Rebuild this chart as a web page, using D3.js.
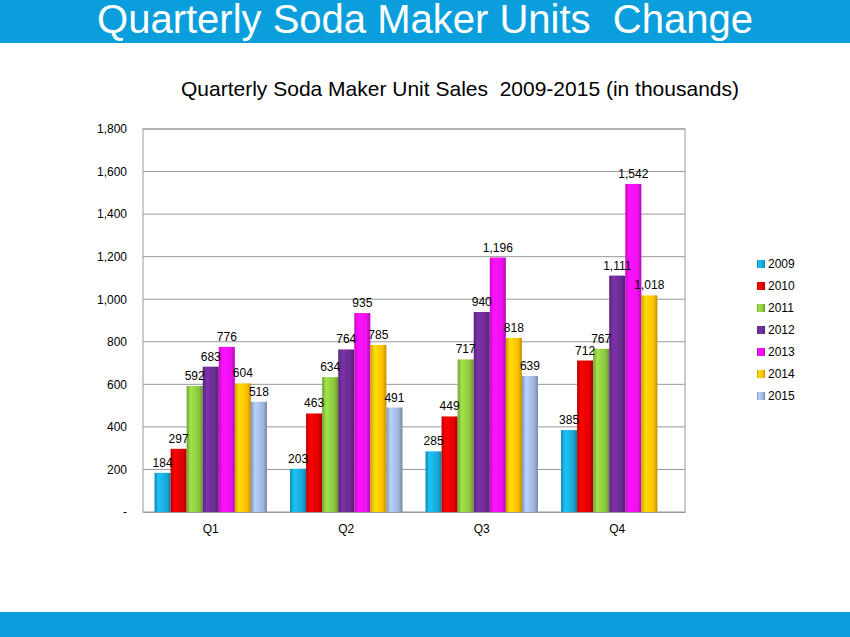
<!DOCTYPE html>
<html lang="en">
<head>
<meta charset="utf-8">
<title>Quarterly Soda Maker Units Change</title>
<script src="https://cdn.jsdelivr.net/npm/d3@7"></script>
<style>
  body { margin: 0; background: #fff; }
  text { font-family: Arial, "Liberation Sans", sans-serif; white-space: pre; }
  .narrow { font-family: "Liberation Sans Narrow", "Arial Narrow", "Liberation Sans", sans-serif; }
</style>
</head>
<body>
<script>
// data
var quarters = ["Q1", "Q2", "Q3", "Q4"];
var years = ["2009", "2010", "2011", "2012", "2013", "2014", "2015"];
var values = {
  "2009": [184, 203, 285, 385],
  "2010": [297, 463, 449, 712],
  "2011": [592, 634, 717, 767],
  "2012": [683, 764, 940, 1111],
  "2013": [776, 935, 1196, 1542],
  "2014": [604, 785, 818, 1018],
  "2015": [518, 491, 639, null]
};
var colors = ["#18a8d8", "#e00000", "#8cc63f", "#6a2c91", "#ee10ee", "#ffc000", "#9fb6dc"];
var yTicks = [0, 200, 400, 600, 800, 1000, 1200, 1400, 1600, 1800];

var w = 850, h = 637;
var svg = d3.select("body").append("svg").attr("width", w).attr("height", h);

// header band + shadow
var defs = svg.append("defs");
var sh = defs.append("radialGradient").attr("id", "shadow").attr("cx", "50%").attr("cy", "0%").attr("r", "50%");
sh.append("stop").attr("offset", "0%").attr("stop-color", "#888").attr("stop-opacity", 0.8);
sh.append("stop").attr("offset", "100%").attr("stop-color", "#fff").attr("stop-opacity", 0);
svg.append("ellipse").attr("cx", 425).attr("cy", 42).attr("rx", 400).attr("ry", 28).attr("fill", "url(#shadow)");
svg.append("rect").attr("x", 0).attr("y", 0).attr("width", w).attr("height", 43).attr("fill", "#0a9fdc");
svg.append("text").attr("class", "narrow").attr("x", 425).attr("y", 33).attr("text-anchor", "middle")
  .attr("font-size", 40).attr("fill", "#fff").text("Quarterly Soda Maker Units  Change");
svg.append("rect").attr("x", 0).attr("y", 612).attr("width", w).attr("height", 25).attr("fill", "#0a9fdc");

svg.append("text").attr("class", "narrow").attr("x", 460).attr("y", 96).attr("text-anchor", "middle")
  .attr("font-size", 21).attr("fill", "#000").text("Quarterly Soda Maker Unit Sales  2009-2015 (in thousands)");

// plot area
var pLeft = 143, pRight = 685, pTop = 129, pBottom = 512;
var y = d3.scaleLinear().domain([0, 1800]).range([pBottom, pTop]);
var x0 = d3.scaleBand().domain(quarters).range([pLeft, pRight]).paddingInner(0.17).paddingOuter(0.085);
var x1 = d3.scaleBand().domain(years).range([0, x0.bandwidth()]);

svg.append("rect").attr("x", pLeft).attr("y", pTop).attr("width", pRight - pLeft).attr("height", pBottom - pTop)
  .attr("fill", "none").attr("stroke", "#999");

svg.append("g").selectAll("line").data(yTicks.slice(1)).enter().append("line")
  .attr("x1", pLeft).attr("x2", pRight).attr("y1", y).attr("y2", y).attr("stroke", "#999");

var yAxis = svg.append("g").attr("transform", "translate(" + pLeft + ",0)")
  .call(d3.axisLeft(y).tickValues(yTicks).tickSize(0).tickPadding(16)
    .tickFormat(function(d) { return d === 0 ? "-" : d3.format(",")(d); }));
yAxis.select(".domain").remove();
yAxis.selectAll("text").attr("font-size", 12).attr("fill", "#000");

var xAxis = svg.append("g").attr("transform", "translate(0," + pBottom + ")")
  .call(d3.axisBottom(x0).tickSize(0).tickPadding(12));
xAxis.select(".domain").attr("stroke", "#999");
xAxis.selectAll("text").attr("font-size", 12).attr("fill", "#000");

// bar gradients
years.forEach(function(yr, i) {
  var g = defs.append("linearGradient").attr("id", "g" + yr).attr("x1", "0%").attr("x2", "100%");
  var c = d3.color(colors[i]);
  g.append("stop").attr("offset", "0%").attr("stop-color", c.darker(0.6));
  g.append("stop").attr("offset", "25%").attr("stop-color", c.brighter(0.4));
  g.append("stop").attr("offset", "75%").attr("stop-color", c);
  g.append("stop").attr("offset", "100%").attr("stop-color", c.darker(0.8));
});

var flat = [];
quarters.forEach(function(q, qi) {
  years.forEach(function(yr) {
    if (values[yr][qi] != null) flat.push({ q: q, yr: yr, v: values[yr][qi] });
  });
});

var bw = x1.bandwidth();
svg.append("g").selectAll("rect").data(flat).enter().append("rect")
  .attr("x", function(d) { return x0(d.q) + x1(d.yr); })
  .attr("y", function(d) { return y(d.v); })
  .attr("width", bw)
  .attr("height", function(d) { return pBottom - y(d.v); })
  .attr("fill", function(d) { return "url(#g" + d.yr + ")"; });

svg.append("g").selectAll("text").data(flat).enter().append("text")
  .attr("x", function(d) { return x0(d.q) + x1(d.yr) + bw / 2; })
  .attr("y", function(d) { return y(d.v) - 6; })
  .attr("text-anchor", "middle").attr("font-size", 12).attr("fill", "#000")
  .text(function(d) { return d3.format(",")(d.v); });

// legend
var lg = svg.append("g").attr("transform", "translate(757,264)");
years.forEach(function(yr, i) {
  lg.append("rect").attr("x", 0).attr("y", i * 22 - 4).attr("width", 8).attr("height", 8)
    .attr("fill", "url(#g" + yr + ")");
  lg.append("text").attr("x", 11).attr("y", i * 22 + 4).attr("font-size", 12).attr("fill", "#000").text(yr);
});
</script>
</body>
</html>
